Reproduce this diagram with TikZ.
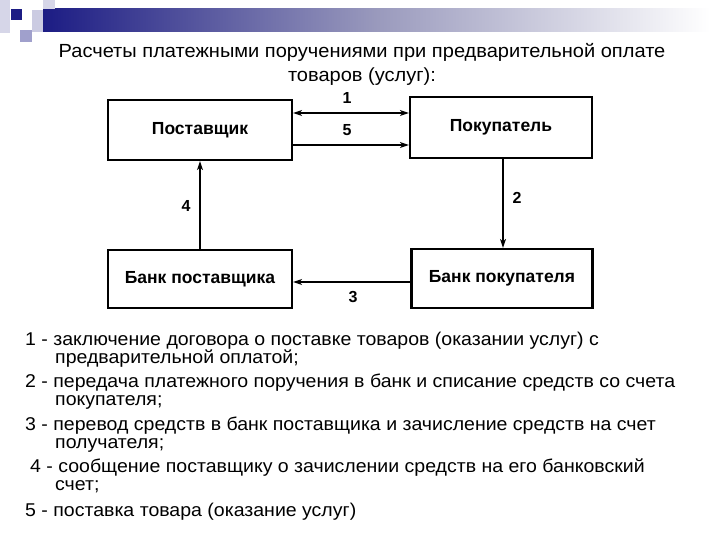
\documentclass[tikz,border=0pt]{standalone}
\usepackage{fontspec}
\setmainfont{Liberation Sans}
\newfontfamily\widefont{Liberation Sans}[FakeStretch=1.055]
\usepackage{tikz}
\usepackage{xcolor}
\usetikzlibrary{arrows.meta,positioning}
\definecolor{navy}{HTML}{1C1C84}
\definecolor{lilac}{HTML}{A0A0CC}
\definecolor{pale}{HTML}{D6D6E8}

\begin{document}
\begin{tikzpicture}[x=1pt,y=-1pt,
  party/.style={draw,line width=2.2pt,font=\fontsize{17.5}{17.5}\selectfont\bfseries,inner sep=0pt},
  flow/.style={line width=1.3pt,-{Stealth[length=9pt,width=6pt,inset=2.5pt]}},
  both/.style={line width=1.3pt,{Stealth[length=9pt,width=6pt,inset=2.5pt]}-{Stealth[length=9pt,width=6pt,inset=2.5pt]}},
  num/.style={font=\fontsize{16}{16}\selectfont\bfseries},
  legend/.style={anchor=west,inner sep=0pt,text height=0.72em,text depth=0.22em,font=\widefont\fontsize{18.5}{18.5}\selectfont},
  title/.style={inner sep=0pt,font=\widefont\fontsize{19}{19}\selectfont}]
\useasboundingbox (0,0) rectangle (720,540);
% header decoration
\fill[pale] (0,0) rectangle (10,33);
\shade[left color=navy,right color=white,middle color=lilac!80!gray] (43,9) rectangle (710,32);
\fill[pale] (43,0) rectangle (55,9);
\fill[pale!80!lilac] (32,10) rectangle (43,32);
\fill[lilac] (20,30) rectangle (32,42);
\fill[navy] (11,9) rectangle (22,20);
\node[title] (t1) at (362,52) {Расчеты платежными поручениями при предварительной оплате};
\node[title] (t2) at (362,77) {товаров (услуг):};
% parties
\node[party,minimum width=184,minimum height=60] (sup) at (200,130) {Поставщик};
\node[party,minimum width=182,minimum height=61] (buy) at (501,127.5) {Покупатель};
\node[party,minimum width=184,minimum height=58] (supbank) at (200,279) {Банк поставщика};
\node[party,minimum width=181,minimum height=59] (buybank) at (502,278.5) {Банк покупателя};
% flows
\draw[both] ([yshift=17pt]sup.east) -- ([yshift=17pt]sup.east -| buy.west);
\draw[flow] ([yshift=-15pt]sup.east) -- ([yshift=-15pt]sup.east -| buy.west);
\draw[flow] ([xshift=2pt]buy.south) -- ([xshift=2pt]buy.south |- buybank.north);
\draw[flow] ([yshift=-3.5pt]buybank.west) -- ([yshift=-3.5pt]buybank.west -| supbank.east);
\draw[flow] (supbank.north) -- (sup.south);
\node[num] (n1) at (347,98) {1};\node[num] (n5) at (347,130) {5};
\node[num] (n4) at (186,206) {4};\node[num] (n2) at (517,198) {2};\node[num] (n3) at (353,297) {3};
% legend
\node[legend] (l1) at (25,343) {1 - заключение договора о поставке товаров (оказании услуг) с};
\node[legend] (l1b) at (55,361) {предварительной оплатой;};
\node[legend] (l2) at (25,385) {2 - передача платежного поручения в банк и списание средств со счета};
\node[legend] (l2b) at (55,403) {покупателя;};
\node[legend] (l3) at (25,428) {3 - перевод средств в банк поставщика и зачисление средств на счет};
\node[legend] (l3b) at (55,446) {получателя;};
\node[legend] (l4) at (30,470) {4 - сообщение поставщику о зачислении средств на его банковский};
\node[legend] (l4b) at (55,488) {счет;};
\node[legend] (l5) at (25,514) {5 - поставка товара (оказание услуг)};
\end{tikzpicture}
\end{document}
